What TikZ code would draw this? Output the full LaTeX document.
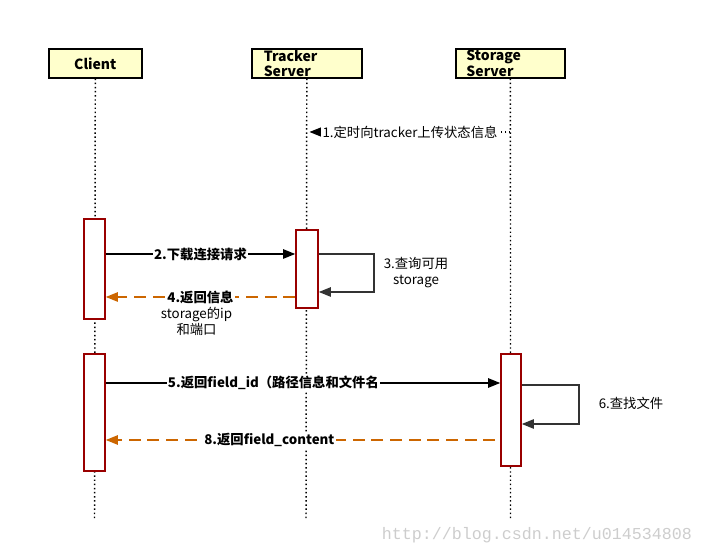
\documentclass[tikz,border=0pt]{standalone}
\usepackage{fontspec}
\setmainfont{Noto Sans CJK SC}
\setmonofont{Liberation Mono}
\usetikzlibrary{arrows.meta, positioning}
\definecolor{headfill}{RGB}{255,255,204}
\definecolor{actred}{RGB}{153,0,0}
\definecolor{retorange}{RGB}{204,102,0}
\definecolor{loopgray}{RGB}{51,51,51}
\definecolor{markgray}{RGB}{205,205,205}

\begin{document}
\begin{tikzpicture}[x=0.75pt, y=-0.75pt, >={Triangle[length=9pt,width=7pt]}, font=\fontsize{10}{12}\selectfont]
    \tikzstyle{actor} = [draw, line width=1.2pt, fill=headfill, rectangle, minimum height=21.75pt, inner sep=0pt, anchor=north west, font=\fontsize{10.5}{11.5}\selectfont\bfseries]
    \tikzstyle{lifeline} = [line width=1.1pt, dotted]
    \tikzstyle{act} = [draw=actred, line width=1.2pt, fill=white, rectangle, minimum width=15.75pt, inner sep=0pt, anchor=north]
    \tikzstyle{msg} = [->, line width=1.1pt]
    \tikzstyle{ret} = [->, line width=1.1pt, retorange, dash pattern=on 9pt off 5pt]
    \tikzstyle{selfloop} = [->, line width=1.1pt, loopgray]
    \tikzstyle{lbl} = [fill=white, inner sep=1pt, text=black, font=\fontsize{10}{12}\selectfont\bfseries]
    \useasboundingbox (0,0) rectangle (703,555);

    % participants
    \node [actor, minimum width=69.75pt] (client) at (48,48) {Client};
    \node [actor, align=left, text width=64.5pt, inner xsep=9pt] (tracker) at (251,48) {Tracker\\Server};
    \node [actor, align=left, text width=66pt, inner xsep=8pt] (storage) at (455,48) {Storage\\Server};

    % lifelines
    \coordinate (clientend) at (94.5,520);
    \coordinate (trackerend) at (306,520);
    \coordinate (storageend) at (510.5,520);
    \draw[lifeline] (client.south) -- (clientend);
    \draw[lifeline] (tracker.south) -- (trackerend);
    \draw[lifeline] (storage.south) -- (storageend);

    % activations
    \node [act, minimum height=75pt] (ca1) at (94.5,218) {};
    \node [act, minimum height=58.5pt, minimum width=16.5pt] (ta) at (307,229) {};
    \node [act, minimum height=87.75pt] (ca2) at (94.5,353) {};
    \node [act, minimum height=84pt, minimum width=15pt] (sa) at (511,353) {};

    % message heights
    \coordinate (m1) at (0,132);
    \coordinate (m2) at (0,254);
    \coordinate (m3a) at (0,254);
    \coordinate (m3b) at (0,292);
    \coordinate (m4) at (0,297);
    \coordinate (m5) at (0,383);
    \coordinate (m6a) at (0,385);
    \coordinate (m6b) at (0,424);
    \coordinate (m8) at (0,440);

    % messages
    \draw[lifeline, line width=0.8pt, ->] (storage.south |- m1) -- ([xshift=2pt]tracker.south |- m1)
        node[midway, fill=white, inner sep=1pt] (l1) {1.定时向tracker上传状态信息};
    \draw[msg] (ca1.east |- m2) -- (ta.west |- m2) node[lbl, midway] (l2) {2.下载连接请求};
    \draw[selfloop] (ta.east |- m3a) -- ++(55,0) |- (ta.east |- m3b);
    \node [align=center] (l3) at (416,273) {3.查询可用\\storage};
    \draw[ret] (ta.west |- m4) -- (ca1.east |- m4) node[lbl, midway] (l4) {4.返回信息};
    \node [align=center, below=-2pt of l4, xshift=-3pt] (l4b) {storage的ip\\和端口};
    \draw[msg] (ca2.east |- m5) -- (sa.west |- m5) node[lbl, pos=0.425] (l5) {5.返回field\_id（路径信息和文件名};
    \draw[selfloop] (sa.east |- m6a) -- ++(57,0) |- (sa.east |- m6b);
    \node (l6) at (631,403) {6.查找文件};
    \draw[ret] ([xshift=-3.75pt]sa.west |- m8) -- (ca2.east |- m8) node[lbl, pos=0.58] (l8) {8.返回field\_content};

    % watermark
    \node [text=markgray, font=\fontsize{12.5}{14}\selectfont\ttfamily] (mark) at (537,535) {http://blog.csdn.net/u014534808};
\end{tikzpicture}
\end{document}
